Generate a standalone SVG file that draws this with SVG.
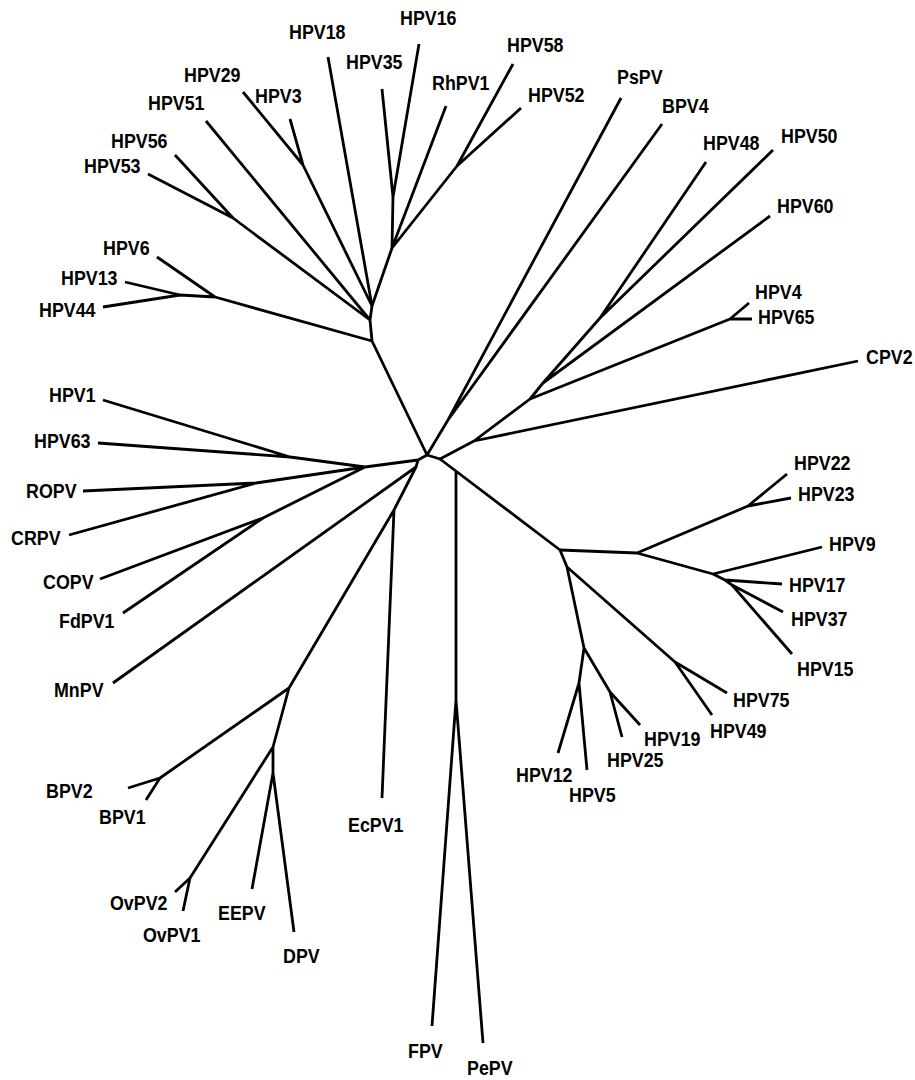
<svg xmlns="http://www.w3.org/2000/svg" width="915" height="1080" viewBox="0 0 915 1080">
<style>
.e{fill:none;stroke:#000;stroke-width:2.8;stroke-linecap:butt;stroke-linejoin:round}
text{font-family:"Liberation Sans",Arial,sans-serif;font-weight:bold;font-size:21px;fill:#000}
</style>
<rect width="915" height="1080" fill="#fff"/>
<g id="connectors" class="e">
<path d="M427 455 L372 341 L370 320 L372 306"/>
<path d="M372 341 L215 297 L157 257 M215 297 L180 295 L125 282 M180 295 L103 307"/>
<path d="M370 320 L233 218 L148 174 M233 218 L175 155 M370 320 L206 121"/>
<path d="M372 306 L328 57 M372 306 L303 165 L243 92 M303 165 L290 119"/>
<path d="M372 306 L392 248 L393 197 L382 89 M393 197 L419 44 M392 248 L446 106 M392 248 L457 166 L513 64 M457 166 L521 108"/>
<path d="M427 455 L448 420 L621 98 M448 420 L662 124"/>
<path d="M427 455 L440 459 L474 441 L858 361 M474 441 L530 399 L730 319 L749 303 M730 319 L752 319"/>
<path d="M530 399 L543 383 L770 216 M543 383 L600 318 L706 162 M600 318 L773 150"/>
<path d="M440 459 L560 550 M456 471 L456 700 L432 1026 M456 700 L483 1043"/>
<path d="M560 550 L637 553 L748 506 L787 474 M748 506 L791 498 M637 553 L713 574 L822 547 M713 574 L725 580 L782 584 M725 580 L732 585 L783 612 M732 585 L792 654"/>
<path d="M560 550 L567 567 L675 662 L727 693 M675 662 L712 715 M567 567 L584 648 L579 683 L558 753 M579 683 L587 770 M584 648 L610 692 L622 737 M610 692 L640 725"/>
<path d="M427 455 L418 460 L365 467 L290 457 L103 400 M290 457 L98 443 M365 467 L256 483 L83 491 M256 483 L69 535 M365 467 L263 518 L100 579 M263 518 L123 613"/>
<path d="M418 460 L416 467 L113 683 M416 467 L394 510 L382 798 M394 510 L289 688 L160 778 L128 788 M160 778 L146 800 M289 688 L273 747 L190 878 L175 892 M190 878 L183 911 M273 747 L273 773 L252 889 M273 773 L294 932"/>
</g>
<g id="HPV16"><text transform="translate(400 25) scale(0.85 1)">HPV16</text></g>
<g id="HPV18"><text transform="translate(289 39) scale(0.85 1)">HPV18</text></g>
<g id="HPV35"><text transform="translate(346 69) scale(0.85 1)">HPV35</text></g>
<g id="HPV29"><text transform="translate(184 82) scale(0.85 1)">HPV29</text></g>
<g id="HPV3"><text transform="translate(255 103) scale(0.85 1)">HPV3</text></g>
<g id="HPV51"><text transform="translate(148 110) scale(0.85 1)">HPV51</text></g>
<g id="HPV56"><text transform="translate(111 148) scale(0.85 1)">HPV56</text></g>
<g id="HPV53"><text transform="translate(84 173) scale(0.85 1)">HPV53</text></g>
<g id="HPV6"><text transform="translate(103 255) scale(0.85 1)">HPV6</text></g>
<g id="HPV13"><text transform="translate(61 285) scale(0.85 1)">HPV13</text></g>
<g id="HPV44"><text transform="translate(39 317) scale(0.85 1)">HPV44</text></g>
<g id="RhPV1"><text transform="translate(432 90) scale(0.85 1)">RhPV1</text></g>
<g id="HPV58"><text transform="translate(507 52) scale(0.85 1)">HPV58</text></g>
<g id="HPV52"><text transform="translate(528 102) scale(0.85 1)">HPV52</text></g>
<g id="PsPV"><text transform="translate(617 84) scale(0.85 1)">PsPV</text></g>
<g id="BPV4"><text transform="translate(662 113) scale(0.85 1)">BPV4</text></g>
<g id="HPV48"><text transform="translate(703 150) scale(0.85 1)">HPV48</text></g>
<g id="HPV50"><text transform="translate(781 143) scale(0.85 1)">HPV50</text></g>
<g id="HPV60"><text transform="translate(777 213) scale(0.85 1)">HPV60</text></g>
<g id="HPV4"><text transform="translate(755 299) scale(0.85 1)">HPV4</text></g>
<g id="HPV65"><text transform="translate(758 324) scale(0.85 1)">HPV65</text></g>
<g id="CPV2"><text transform="translate(866 364) scale(0.85 1)">CPV2</text></g>
<g id="HPV1"><text transform="translate(49 402) scale(0.85 1)">HPV1</text></g>
<g id="HPV63"><text transform="translate(34 448) scale(0.85 1)">HPV63</text></g>
<g id="ROPV"><text transform="translate(26 498) scale(0.85 1)">ROPV</text></g>
<g id="CRPV"><text transform="translate(11 545) scale(0.85 1)">CRPV</text></g>
<g id="COPV"><text transform="translate(43 589) scale(0.85 1)">COPV</text></g>
<g id="FdPV1"><text transform="translate(59 628) scale(0.85 1)">FdPV1</text></g>
<g id="MnPV"><text transform="translate(54 697) scale(0.85 1)">MnPV</text></g>
<g id="HPV22"><text transform="translate(794 470) scale(0.85 1)">HPV22</text></g>
<g id="HPV23"><text transform="translate(798 501) scale(0.85 1)">HPV23</text></g>
<g id="HPV9"><text transform="translate(829 551) scale(0.85 1)">HPV9</text></g>
<g id="HPV17"><text transform="translate(789 592) scale(0.85 1)">HPV17</text></g>
<g id="HPV37"><text transform="translate(791 626) scale(0.85 1)">HPV37</text></g>
<g id="HPV15"><text transform="translate(797 676) scale(0.85 1)">HPV15</text></g>
<g id="HPV75"><text transform="translate(733 707) scale(0.85 1)">HPV75</text></g>
<g id="HPV49"><text transform="translate(710 738) scale(0.85 1)">HPV49</text></g>
<g id="HPV19"><text transform="translate(644 746) scale(0.85 1)">HPV19</text></g>
<g id="HPV25"><text transform="translate(607 767) scale(0.85 1)">HPV25</text></g>
<g id="HPV12"><text transform="translate(516 782) scale(0.85 1)">HPV12</text></g>
<g id="HPV5"><text transform="translate(569 802) scale(0.85 1)">HPV5</text></g>
<g id="BPV2"><text transform="translate(46 798) scale(0.85 1)">BPV2</text></g>
<g id="BPV1"><text transform="translate(99 824) scale(0.85 1)">BPV1</text></g>
<g id="OvPV2"><text transform="translate(110 910) scale(0.85 1)">OvPV2</text></g>
<g id="OvPV1"><text transform="translate(143 942) scale(0.85 1)">OvPV1</text></g>
<g id="EEPV"><text transform="translate(218 920) scale(0.85 1)">EEPV</text></g>
<g id="DPV"><text transform="translate(283 963) scale(0.85 1)">DPV</text></g>
<g id="EcPV1"><text transform="translate(348 832) scale(0.85 1)">EcPV1</text></g>
<g id="FPV"><text transform="translate(408 1058) scale(0.85 1)">FPV</text></g>
<g id="PePV"><text transform="translate(467 1075) scale(0.85 1)">PePV</text></g>
</svg>
